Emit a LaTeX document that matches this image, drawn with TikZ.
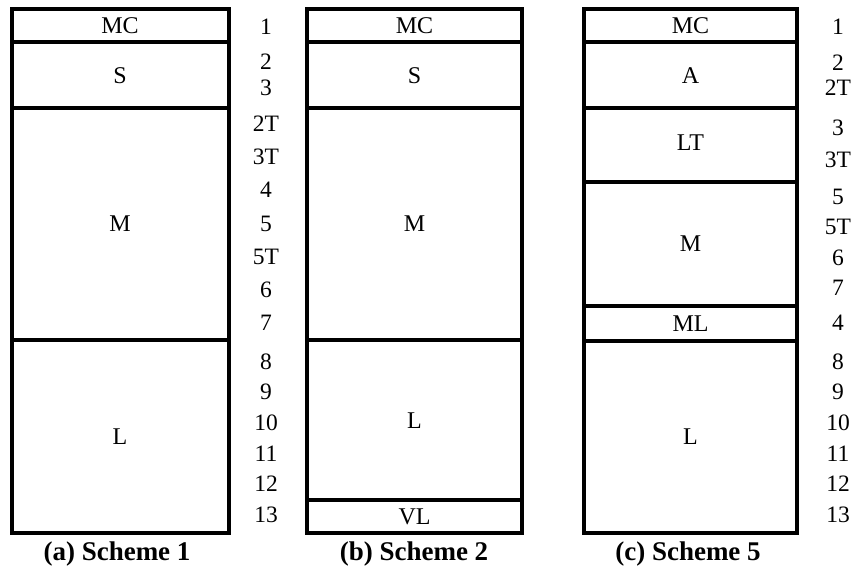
\documentclass[tikz,border=0pt]{standalone}
\usepackage{fontspec}
\setmainfont{Liberation Serif}
\begin{document}
\begin{tikzpicture}[x=1pt,y=-1pt,
  frame/.style={line width=4pt,line cap=rect},
  lab/.style={font=\fontsize{24}{26}\selectfont,inner sep=0pt},
  num/.style={font=\fontsize{23.5}{26}\selectfont,inner sep=0pt},
  captxt/.style={font=\fontsize{27}{29}\selectfont\bfseries,inner sep=0pt,anchor=base}]
\useasboundingbox (0,0) rectangle (857,567);

% ---- column (a) ----
\draw[frame] (11.5,9) rectangle (229,533);
\draw[frame] (11.5,42) -- (229,42);
\draw[frame] (11.5,108) -- (229,108);
\draw[frame] (11.5,340) -- (229,340);
\node[lab] (aMC) at (120,26) {MC};
\node[lab] (aS) at (120,76) {S};
\node[lab] (aM) at (120,224) {M};
\node[lab] (aL) at (120,437) {L};
\foreach \t/\y [count=\i] in {1/27,2/62,3/88,2T/124,3T/157,4/190,5/224,5T/257,6/290,7/323,8/362,9/392,10/423,11/454,12/484,13/515}
  \node[num] (an\i) at (266,\y) {\t};
\node[captxt] (capa) at (117,560) {(a) Scheme 1};

% ---- column (b) ----
\draw[frame] (307,9) rectangle (522,533);
\draw[frame] (307,42) -- (522,42);
\draw[frame] (307,108) -- (522,108);
\draw[frame] (307,340) -- (522,340);
\draw[frame] (307,500) -- (522,500);
\node[lab] (bMC) at (414.5,26) {MC};
\node[lab] (bS) at (414.5,76) {S};
\node[lab] (bM) at (414.5,224) {M};
\node[lab] (bL) at (414.5,421) {L};
\node[lab] (bVL) at (414.5,517) {VL};
\node[captxt] (capb) at (414,560) {(b) Scheme 2};

% ---- column (c) ----
\draw[frame] (584,9) rectangle (797,533);
\draw[frame] (584,42) -- (797,42);
\draw[frame] (584,108) -- (797,108);
\draw[frame] (584,182) -- (797,182);
\draw[frame] (584,306) -- (797,306);
\draw[frame] (584,341) -- (797,341);
\node[lab] (cMC) at (690.5,26) {MC};
\node[lab] (cA) at (690.5,76) {A};
\node[lab] (cLT) at (690.5,143) {LT};
\node[lab] (cM) at (690.5,244) {M};
\node[lab] (cML) at (690.5,324) {ML};
\node[lab] (cL) at (690.5,437) {L};
\foreach \t/\y [count=\i] in {1/27,2/63,2T/88,3/128,3T/160,5/197,5T/227,6/258,7/288,4/323,8/362,9/392,10/423,11/454,12/484,13/515}
  \node[num] (cn\i) at (838,\y) {\t};
\node[captxt] (capc) at (688,560) {(c) Scheme 5};
\end{tikzpicture}
\end{document}
